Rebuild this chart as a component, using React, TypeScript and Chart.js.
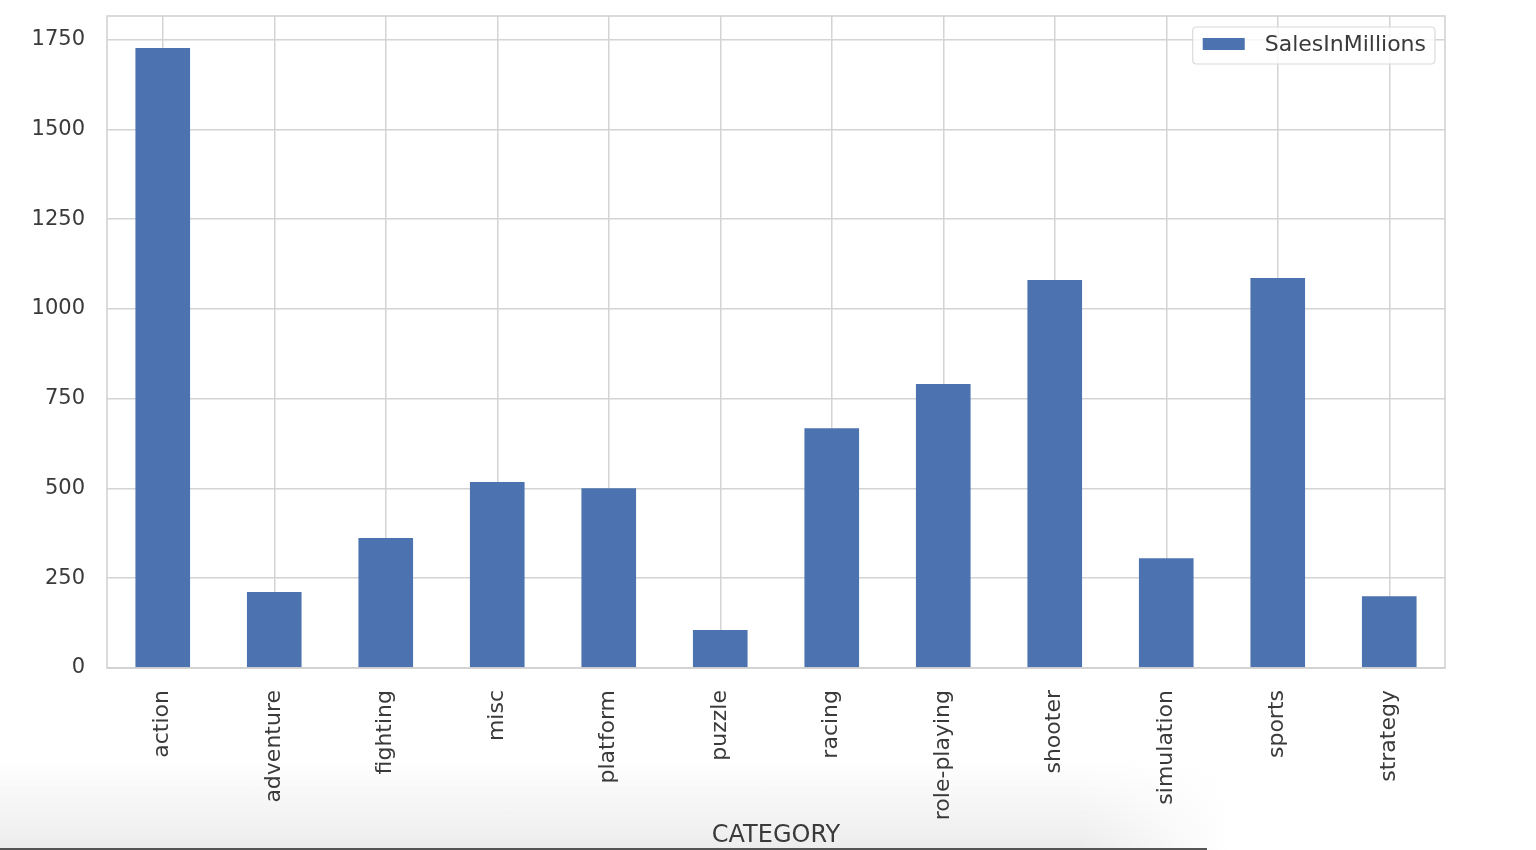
import React, { useEffect, useRef } from "react";
import { Chart, registerables } from "chart.js";

Chart.register(...registerables);

const categories = [
  "action",
  "adventure",
  "fighting",
  "misc",
  "platform",
  "puzzle",
  "racing",
  "role-playing",
  "shooter",
  "simulation",
  "sports",
  "strategy",
];
const salesInMillions = [1727, 212, 362, 518, 501, 106, 668, 791, 1081, 306, 1086, 200];
const seriesLabel = "SalesInMillions";
const xAxisTitle = "CATEGORY";
const yMax = 1816;
const yStep = 250;

const FONT = "'DejaVu Sans', sans-serif";
const TEXT = "#3a3a3a";
const GRID = "#d4d4d4";
const BAR = "#4C72B0";

const framePlugin = {
  id: "frame",
  afterDraw(chart: any) {
    const { ctx, chartArea: ca } = chart;
    ctx.save();
    ctx.strokeStyle = "#d0d0d0";
    ctx.lineWidth = 1.5;
    ctx.strokeRect(ca.left, ca.top, ca.right - ca.left, ca.bottom - ca.top);

    // legend inside the plot area (upper right)
    const ds = chart.data.datasets[0];
    ctx.font = `22px ${FONT}`;
    const tw = ctx.measureText(ds.label).width;
    const boxW = 72 + tw + 9;
    const boxH = 37;
    const bx = ca.right - 10 - boxW;
    const by = ca.top + 11;
    const r = 4;
    ctx.beginPath();
    ctx.moveTo(bx + r, by);
    ctx.lineTo(bx + boxW - r, by);
    ctx.quadraticCurveTo(bx + boxW, by, bx + boxW, by + r);
    ctx.lineTo(bx + boxW, by + boxH - r);
    ctx.quadraticCurveTo(bx + boxW, by + boxH, bx + boxW - r, by + boxH);
    ctx.lineTo(bx + r, by + boxH);
    ctx.quadraticCurveTo(bx, by + boxH, bx, by + boxH - r);
    ctx.lineTo(bx, by + r);
    ctx.quadraticCurveTo(bx, by, bx + r, by);
    ctx.closePath();
    ctx.fillStyle = "rgba(255,255,255,0.8)";
    ctx.fill();
    ctx.strokeStyle = "#dadada";
    ctx.lineWidth = 1.2;
    ctx.stroke();
    ctx.fillStyle = ds.backgroundColor;
    ctx.fillRect(bx + 10, by + 11, 42, 12);
    ctx.fillStyle = TEXT;
    ctx.textBaseline = "middle";
    ctx.textAlign = "left";
    ctx.fillText(ds.label, bx + 72, by + 18);
    ctx.restore();
  },
};

export default function App() {
  const ref = useRef<HTMLCanvasElement | null>(null);

  useEffect(() => {
    if (!ref.current) return;
    const chart = new Chart(ref.current, {
      type: "bar",
      data: {
        labels: categories,
        datasets: [
          {
            label: seriesLabel,
            data: salesInMillions,
            backgroundColor: BAR,
            borderWidth: 0,
            categoryPercentage: 1,
            barPercentage: 0.49,
          },
        ],
      },
      options: {
        responsive: false,
        animation: false,
        devicePixelRatio: 1,
        layout: { padding: { left: 0, top: 16, right: 91, bottom: 0 } },
        plugins: {
          legend: { display: false },
          tooltip: { enabled: false },
        },
        scales: {
          x: {
            grid: { color: GRID, lineWidth: 1.5, offset: false, drawTicks: false },
            border: { display: false },
            ticks: {
              color: TEXT,
              font: { family: FONT, size: 22 },
              minRotation: 90,
              maxRotation: 90,
              padding: 22,
              autoSkip: false,
            },
            title: {
              display: true,
              text: xAxisTitle,
              color: TEXT,
              font: { family: FONT, size: 24 },
              padding: { top: 0, bottom: 0 },
            },
            afterFit(scale: any) {
              scale.height = 850 - 668;
            },
          },
          y: {
            min: 0,
            max: yMax,
            grid: { color: GRID, lineWidth: 1.5, drawTicks: false },
            border: { display: false },
            ticks: {
              stepSize: yStep,
              includeBounds: false,
              color: TEXT,
              font: { family: FONT, size: 21 },
              padding: 22,
              callback: (v: any) => String(v),
            },
            afterFit(scale: any) {
              scale.width = 107;
              scale.paddingTop = 0;
              scale.paddingBottom = 0;
            },
          },
        },
      },
      plugins: [framePlugin],
    });
    return () => chart.destroy();
  }, []);

  return (
    <div style={{ position: "fixed", left: 0, top: 0, width: 1536, height: 850, background: "#fff" }}>
      <div
        style={{
          position: "absolute",
          left: 0,
          top: 760,
          width: 1230,
          height: 90,
          background:
            "linear-gradient(to bottom, rgba(236,236,236,0) 0%, rgba(236,236,236,1) 100%)",
          WebkitMaskImage: "linear-gradient(to right, #000 0%, #000 88%, transparent 100%)",
        }}
      />
      <div
        style={{
          position: "absolute",
          left: 0,
          top: 848,
          width: 1207,
          height: 2,
          background: "#555",
        }}
      />
      <canvas
        ref={ref}
        width={1536}
        height={850}
        style={{ position: "absolute", left: 0, top: 0, width: 1536, height: 850 }}
      />
    </div>
  );
}
